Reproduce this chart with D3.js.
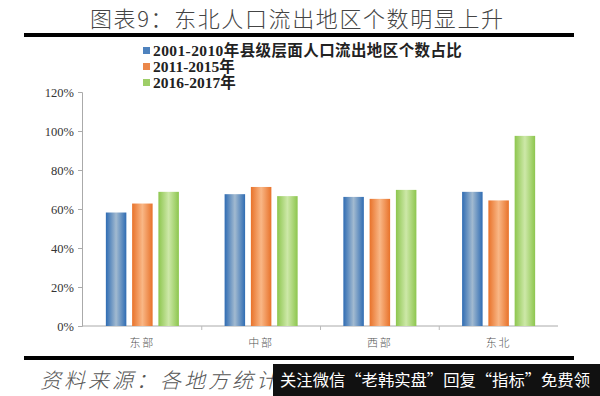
<!DOCTYPE html>
<html>
<head>
<meta charset="utf-8">
<script src="https://cdn.jsdelivr.net/npm/d3@7"></script>
<style>
  body { margin: 0; background: #fff; }
  svg { display: block; }
</style>
</head>
<body>
<div id="chart"></div>
<script>
// data
var categories = ['东部', '中部', '西部', '东北'];
var seriesNames = ['2001-2010年县级层面人口流出地区个数占比', '2011-2015年', '2016-2017年'];
var s2001 = [0.582, 0.676, 0.662, 0.688];
var s2011 = [0.628, 0.713, 0.652, 0.644];
var s2016 = [0.688, 0.666, 0.698, 0.975];
var yTicks = [0, 0.2, 0.4, 0.6, 0.8, 1.0, 1.2];

var series = [s2001, s2011, s2016];
var edgeColors = ['#2f6cb3', '#e8722a', '#8dc64e'];
var midColors = ['#a2bad0', '#f9b786', '#cde8a8'];

var width = 600, height = 396;
var margin = { left: 82, right: 42, top: 92, bottom: 70 };

var svg = d3.select('#chart')
  .append('svg')
  .attr('width', width)
  .attr('height', height);

var defs = svg.append('defs');
edgeColors.forEach(function(c, i) {
  var g = defs.append('linearGradient')
    .attr('id', 'grad' + i)
    .attr('x1', '0%').attr('x2', '100%')
    .attr('y1', '0%').attr('y2', '0%');
  g.append('stop').attr('offset', '0%').attr('stop-color', c);
  g.append('stop').attr('offset', '50%').attr('stop-color', midColors[i]);
  g.append('stop').attr('offset', '100%').attr('stop-color', c);
});

// title
svg.append('text')
  .attr('x', 90).attr('y', 27)
  .attr('font-family', 'Noto Sans CJK SC')
  .attr('font-size', 22)
  .attr('font-weight', 300)
  .attr('textLength', 413)
  .attr('lengthAdjust', 'spacing')
  .attr('fill', '#444')
  .text('图表9：东北人口流出地区个数明显上升');

svg.append('rect')
  .attr('x', 24).attr('y', 33)
  .attr('width', 550).attr('height', 4)
  .attr('fill', '#000');

// legend
var legend = svg.append('g').attr('transform', 'translate(143,0)');
seriesNames.forEach(function(name, i) {
  var y = 51 + i * 16;
  legend.append('rect')
    .attr('x', 0).attr('y', y - 4)
    .attr('width', 7).attr('height', 7)
    .attr('fill', edgeColors[i])
    .attr('opacity', 0.85);
  legend.append('text')
    .attr('x', 10).attr('y', y + 5)
    .attr('font-family', 'Liberation Serif, Noto Sans CJK SC')
    .attr('font-weight', 'bold')
    .attr('font-size', 15.5)
    .attr('letter-spacing', i === 0 ? 0.4 : 0)
    .attr('fill', '#222')
    .text(name);
});

// scales
var y = d3.scaleLinear()
  .domain([0, 1.2])
  .range([height - margin.bottom, margin.top]);

var x0 = d3.scaleBand()
  .domain(categories)
  .range([margin.left + 1, width - margin.right])
  .paddingInner(0.385)
  .paddingOuter(0.1925);

var x1 = d3.scaleBand()
  .domain(d3.range(series.length))
  .range([0, x0.bandwidth()])
  .paddingInner(0.22);

// y axis
var yAxis = svg.append('g')
  .attr('transform', 'translate(' + margin.left + ',0)')
  .call(d3.axisLeft(y).tickValues(yTicks).tickFormat(d3.format('.0%')).tickSize(4).tickPadding(4));
yAxis.selectAll('path, line').attr('stroke', '#aaa');
yAxis.selectAll('text')
  .attr('font-family', 'Liberation Serif')
  .attr('font-size', 12.5)
  .attr('fill', '#333');

// x axis
var xAxisG = svg.append('g')
  .attr('transform', 'translate(0,' + y(0) + ')');
xAxisG.append('line')
  .attr('x1', margin.left).attr('x2', width - margin.right)
  .attr('stroke', '#aaa');
var step = x0.step();
xAxisG.selectAll('.sep')
  .data(categories.slice(1))
  .enter().append('line')
  .attr('x1', function(d) { return x0(d) - step * 0.385 / 2; })
  .attr('x2', function(d) { return x0(d) - step * 0.385 / 2; })
  .attr('y1', 0).attr('y2', 4)
  .attr('stroke', '#bbb');
xAxisG.selectAll('.cat')
  .data(categories)
  .enter().append('text')
  .attr('x', function(d) { return x0(d) + x0.bandwidth() / 2; })
  .attr('y', 21)
  .attr('text-anchor', 'middle')
  .attr('font-family', 'Noto Sans CJK SC')
  .attr('font-size', 11)
  .attr('font-weight', 300)
  .attr('letter-spacing', 2)
  .attr('fill', '#555')
  .text(function(d) { return d; });

// bars
var groups = svg.selectAll('.grp')
  .data(categories)
  .enter().append('g')
  .attr('transform', function(d) { return 'translate(' + x0(d) + ',0)'; });

groups.selectAll('rect')
  .data(function(d, ci) { return series.map(function(s, si) { return { si: si, v: s[ci] }; }); })
  .enter().append('rect')
  .attr('x', function(d) { return x1(d.si); })
  .attr('y', function(d) { return y(d.v); })
  .attr('width', x1.bandwidth())
  .attr('height', function(d) { return y(0) - y(d.v); })
  .attr('fill', function(d) { return 'url(#grad' + d.si + ')'; });

// footer
svg.append('rect')
  .attr('x', 24).attr('y', 356)
  .attr('width', 550).attr('height', 4)
  .attr('fill', '#000');

svg.append('text')
  .attr('x', 40).attr('y', 388)
  .attr('font-family', 'Noto Sans CJK SC')
  .attr('font-size', 21)
  .attr('font-weight', 300)
  .attr('font-style', 'italic')
  .attr('letter-spacing', 3)
  .attr('fill', '#555')
  .text('资料来源：各地方统计局');

svg.append('rect')
  .attr('x', 273).attr('y', 364)
  .attr('width', 327).attr('height', 32)
  .attr('fill', '#111');

svg.append('text')
  .attr('x', 280).attr('y', 386)
  .attr('font-family', 'Noto Sans CJK SC')
  .attr('font-size', 16)
  .attr('textLength', 310)
  .attr('lengthAdjust', 'spacingAndGlyphs')
  .attr('fill', '#fff')
  .text('关注微信“老韩实盘”回复“指标”免费领');
</script>
</body>
</html>
